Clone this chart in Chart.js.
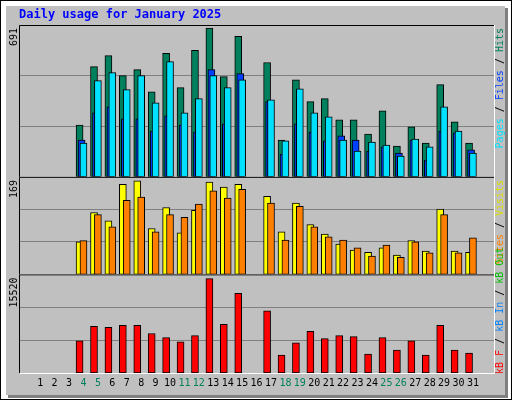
<!DOCTYPE html>
<html><head><meta charset="utf-8">
<script src="https://cdn.jsdelivr.net/npm/chart.js@4/dist/chart.umd.min.js"></script>
<style>html,body{margin:0;padding:0;background:#fff}canvas{display:block}</style>
</head><body>
<div style="width:512px;height:400px"><canvas id="c" width="512" height="400"></canvas></div>
<script>
const days = [1,2,3,4,5,6,7,8,9,10,11,12,13,14,15,16,17,18,19,20,21,22,23,24,25,26,27,28,29,30,31];
const weekendDays = [4,5,11,12,18,19,25,26];
const hits  = [null,null,null,241,512,563,470,498,395,573,414,587,691,465,652,null,531,171,451,349,363,265,265,199,307,143,232,157,428,255,157];
const files = [null,null,null,171,297,325,270,270,213,283,241,208,498,246,479,null,349,106,246,208,167,190,171,120,139,111,171,78,213,204,125];
const pages = [null,null,null,157,447,484,405,470,344,535,297,363,470,414,451,null,358,167,409,297,279,171,120,162,148,97,176,139,325,213,111];
const visits= [null,null,null,59,112,97,163,169,83,121,75,116,167,158,163,null,141,77,129,90,73,55,44,40,48,35,61,42,118,42,40];
const sites = [null,null,null,61,108,86,134,140,77,108,103,127,151,138,154,null,129,62,123,86,68,62,48,33,53,31,59,39,108,39,66];
const kbytes= [null,null,null,5305,7675,7506,7845,7845,6490,5813,5136,6152,15520,8014,13093,null,10215,2935,4966,6829,5644,6152,5982,3104,5813,3781,5305,2935,7845,3781,3273];
const maxHits = 691, maxVisits = 169, maxKB = 15520;
const title = "Daily usage for January 2025";

const pts = (arr, shift) => days.map((d,i)=>({x:d+shift, y:arr[i]}));
const mono = "'DejaVu Sans Mono', monospace";

function ds(label, arr, shift, color, axis, order){
  return {label, data: pts(arr, shift), backgroundColor: color, borderColor:'#000', borderWidth:1,
    borderSkipped:false, barThickness:7, grouped:false, yAxisID:axis, order};
}
function yAxis(max, weight){
  return {stack:'s', stackWeight:weight, position:'left', min:0, max:max, offset:false,
    ticks:{display:false}, border:{display:false},
    grid:{color:'#808080', lineWidth:1, drawTicks:false},
    afterFit: s => { s.width = 0; },
    afterBuildTicks: s => { s.ticks = [{value:max/3},{value:2*max/3}]; }};
}

const frame = {
  id:'frame',
  beforeDraw(chart){
    const c = chart.ctx;
    c.save();
    c.fillStyle='#fff'; c.fillRect(0,0,512,400);
    c.strokeStyle='#000'; c.lineWidth=1; c.strokeRect(0.5,0.5,511,399);
    c.fillStyle='#c0c0c0'; c.fillRect(5,5,500,390);
    c.fillStyle='#808080'; c.fillRect(505,8,3,390); c.fillRect(8,395,500,3);
    c.fillStyle='#fff'; c.fillRect(5,5,500,1); c.fillRect(5,5,1,390);
    c.restore();
  },
  afterDraw(chart){
    const c = chart.ctx, a = chart.chartArea;
    c.save();
    ['y1','y2','y3'].forEach(id=>{
      const s = chart.scales[id];
      c.strokeStyle='#000'; c.lineWidth=1;
      c.beginPath(); c.moveTo(a.left-0.5, s.bottom); c.lineTo(a.left-0.5, s.top+0.5); c.lineTo(a.right, s.top+0.5); c.stroke();
      c.strokeStyle='#fff';
      c.beginPath(); c.moveTo(a.right+0.5, s.top); c.lineTo(a.right+0.5, s.bottom+0.5); c.lineTo(a.left, s.bottom+0.5); c.stroke();
    });
    c.font = "bold 12px "+mono; c.fillStyle='#0000ff'; c.textBaseline='middle'; c.textAlign='left';
    c.fillText(title, 19, 15);
    c.font = "10px "+mono; c.fillStyle='#000';
    const left = [[maxHits,'y1'],[maxVisits,'y2'],[maxKB,'y3']];
    left.forEach(([v,id])=>{
      const s = chart.scales[id];
      c.save(); c.translate(14, s.top+3); c.rotate(-Math.PI/2); c.textAlign='right'; c.fillText(String(v),0,0); c.restore();
    });
    const legends = [
      ['y1', [['Hits','#00805c'],[' / ','#000'],['Files','#0040ff'],[' / ','#000'],['Pages','#00e0ff']]],
      ['y2', [['Visits','#e0e000'],[' / ','#000'],['Sites','#ff8000']]],
      ['y3', [['kB Out','#00c000'],[' / ','#000'],['kB In','#0080ff'],[' / ','#000'],['kB F','#ff0000']]]
    ];
    legends.forEach(([id, parts])=>{
      const s = chart.scales[id];
      c.save(); c.translate(500, id==='y3'? s.bottom+1 : s.top+3); c.rotate(-Math.PI/2);
      if(id==='y3'){
        c.textAlign='left'; let x=0;
        for(let i=parts.length-1;i>=0;i--){ c.fillStyle=parts[i][1]; c.fillText(parts[i][0],x,0); x+=c.measureText(parts[i][0]).width; }
      } else {
        c.textAlign='right'; let x=0;
        parts.forEach(p=>{ c.fillStyle=p[1]; c.fillText(p[0],x,0); x-=c.measureText(p[0]).width; });
      }
      c.restore();
    });
    c.restore();
  }
};

new Chart(document.getElementById('c'), {
  type:'bar',
  data:{datasets:[
    ds('Hits', hits, -0.27, '#00805c', 'y1', 3),
    ds('Files', files, -0.13, '#0040ff', 'y1', 2),
    ds('Pages', pages, 0, '#00e0ff', 'y1', 1),
    ds('Visits', visits, -0.27, '#ffff00', 'y2', 2),
    ds('Sites', sites, 0, '#ff8000', 'y2', 1),
    ds('kB F', kbytes, -0.27, '#ff0000', 'y3', 1)
  ]},
  options:{
    responsive:false, animation:false, devicePixelRatio:1,
    layout:{padding:{top:25,left:20,right:18,bottom:7}},
    plugins:{legend:{display:false}, tooltip:{enabled:false}},
    scales:{
      x:{type:'linear', min:0.13, max:31.93, grid:{display:false, drawTicks:false}, border:{display:false},
        afterBuildTicks: s => { s.ticks = days.map(v=>({value:v})); },
        ticks:{autoSkip:false, maxRotation:0, padding:4, font:{family:mono,size:10},
          color: ctx => weekendDays.includes(ctx.tick.value) ? '#00805c' : '#000',
          callback: v => String(v)}},
      y3: yAxis(maxKB*95.7/91.7, 98),
      y2: yAxis(maxVisits*96/92, 97),
      y1: yAxis(maxHits*151/148, 151)
    }
  },
  plugins:[frame]
});
</script>
</body></html>
